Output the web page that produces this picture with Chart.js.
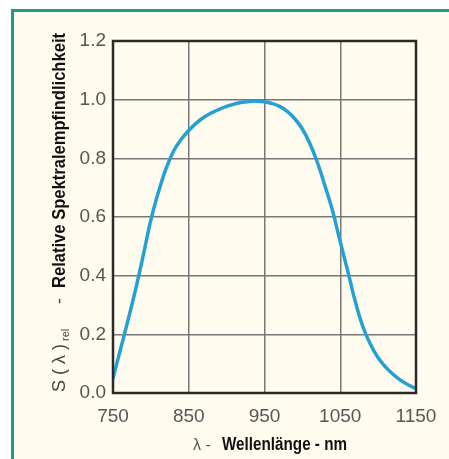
<!DOCTYPE html>
<html>
<head>
<meta charset="utf-8">
<script src="https://cdn.jsdelivr.net/npm/chart.js@4"></script>
<style>
    html, body { margin: 0; padding: 0; background: #ffffff; }
    #frame {
        position: absolute; left: 11px; top: 9px; width: 450px; height: 460px;
        border-left: 3px solid #16a185; border-top: 3px solid #16a185;
        background: #fffcef;
    }
    #wrap { position: absolute; left: 0; top: 0; width: 449px; height: 459px; }
</style>
</head>
<body>
<div id="frame"></div>
<div id="wrap"><canvas id="chart" width="449" height="459"></canvas></div>
<script>
// spectral sensitivity curve (every 10 nm)
const wavelengths = [750, 760, 770, 780, 790, 800, 810, 820, 830, 840, 850, 860, 870, 880, 890, 900, 910, 920, 930, 940, 950,
    960, 970, 980, 990, 1000, 1010, 1020, 1030, 1040, 1050, 1060, 1070, 1080, 1090, 1100, 1110, 1120, 1130, 1140, 1150];
const sensitivity = [0.05, 0.15, 0.25, 0.355, 0.47, 0.59, 0.685, 0.765, 0.825, 0.865, 0.895, 0.92, 0.94, 0.955, 0.967, 0.977, 0.985, 0.991, 0.994, 0.995, 0.993,
    0.987, 0.977, 0.96, 0.935, 0.90, 0.85, 0.785, 0.705, 0.62, 0.515, 0.415, 0.31, 0.225, 0.165, 0.12, 0.088, 0.063, 0.043, 0.027, 0.015];
const xTicks = [750, 850, 950, 1050, 1150];
const yTicks = [0.0, 0.2, 0.4, 0.6, 0.8, 1.0, 1.2];

const narrow = "'Liberation Sans Narrow', 'Liberation Sans', Arial, sans-serif";

// frame round the plot area + axis titles with mixed styles
const decorPlugin = {
    id: 'decor',
    afterDraw(chart) {
        const ctx = chart.ctx;
        const a = chart.chartArea;
        ctx.save();
        ctx.strokeStyle = '#2a2a2a';
        ctx.lineWidth = 2.5;
        ctx.strokeRect(a.left, a.top, a.right - a.left, a.bottom - a.top);

        // y title, rotated
        ctx.translate(65, 392);
        ctx.rotate(-Math.PI / 2);
        ctx.textBaseline = 'alphabetic';
        ctx.fillStyle = '#444';
        ctx.font = '18px ' + narrow;
        ctx.fillText('S ( λ )', 0, 0);
        let w = ctx.measureText('S ( λ )').width;
        ctx.font = '11px ' + narrow;
        ctx.fillText('rel', w + 3, 4);
        ctx.font = '18px ' + narrow;
        ctx.fillText('-', 88, 0);
        ctx.fillStyle = '#111';
        ctx.font = 'bold 19px ' + narrow;
        const yt = 'Relative Spektralempfindlichkeit';
        const yw = ctx.measureText(yt).width;
        ctx.save();
        ctx.translate(104, 0);
        ctx.scale(255 / yw, 1);
        ctx.fillText(yt, 0, 0);
        ctx.restore();
        ctx.restore();

        // x title
        ctx.save();
        ctx.textBaseline = 'alphabetic';
        ctx.fillStyle = '#555';
        ctx.font = '16px ' + narrow;
        ctx.fillText('λ -', 193, 450);
        ctx.fillStyle = '#111';
        ctx.font = 'bold 18px ' + narrow;
        const xt = 'Wellenlänge - nm';
        const xw = ctx.measureText(xt).width;
        ctx.translate(222, 450);
        ctx.scale(125 / xw, 1);
        ctx.fillText(xt, 0, 0);
        ctx.restore();
    }
};

new Chart(document.getElementById('chart').getContext('2d'), {
    type: 'line',
    data: {
        datasets: [{
            data: wavelengths.map((x, i) => ({ x: x, y: sensitivity[i] })),
            borderColor: '#25a0d4',
            borderWidth: 3.5,
            pointRadius: 0,
            tension: 0.4,
            fill: false
        }]
    },
    options: {
        responsive: false,
        animation: false,
        layout: { padding: { top: 41, right: 33, left: 0, bottom: 0 } },
        plugins: { legend: { display: false }, tooltip: { enabled: false } },
        scales: {
            x: {
                type: 'linear',
                min: 750, max: 1150,
                afterBuildTicks(scale) { scale.ticks = xTicks.map(v => ({ value: v })); },
                afterFit(scale) { scale.height = 66; },
                grid: { color: '#777', lineWidth: 1.5, drawTicks: false },
                border: { display: false },
                ticks: {
                    padding: 12,
                    color: '#555',
                    font: { family: narrow, size: 19 },
                    callback: v => String(v)
                }
            },
            y: {
                min: 0, max: 1.2,
                afterBuildTicks(scale) { scale.ticks = yTicks.map(v => ({ value: v })); },
                afterFit(scale) { scale.width = 113; },
                grid: { color: '#777', lineWidth: 1.5, drawTicks: false },
                border: { display: false },
                ticks: {
                    padding: 7,
                    color: '#555',
                    font: { family: narrow, size: 19 },
                    callback: v => v.toFixed(1)
                }
            }
        }
    },
    plugins: [decorPlugin]
});
</script>
</body>
</html>
